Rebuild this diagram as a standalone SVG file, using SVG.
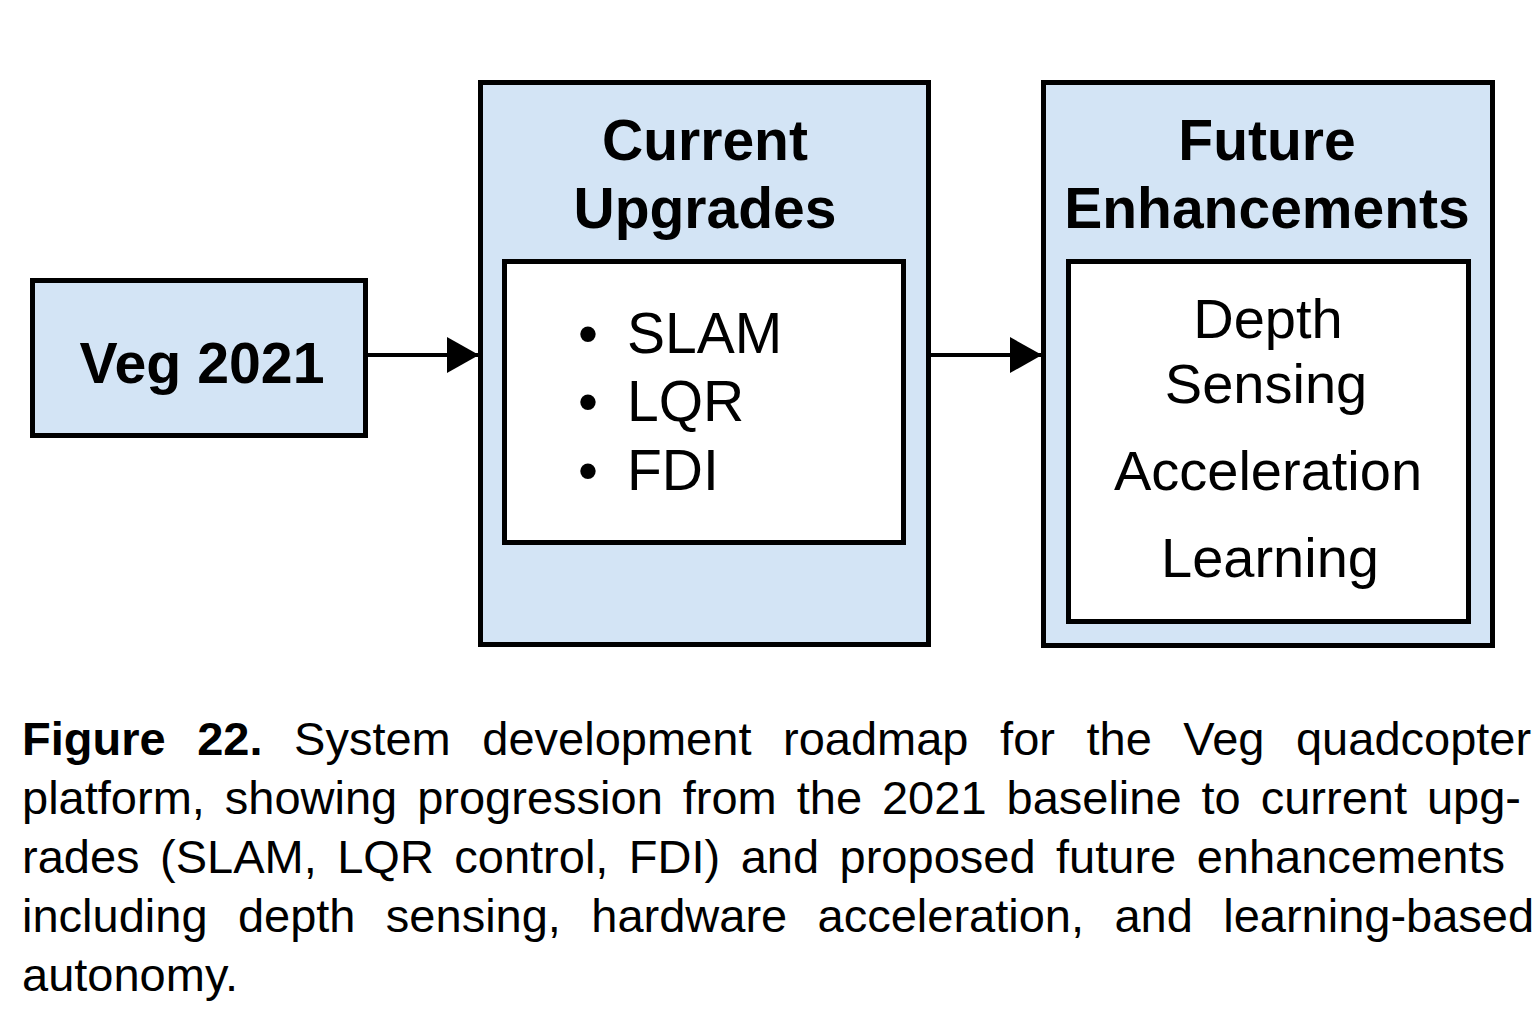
<svg xmlns="http://www.w3.org/2000/svg" width="1536" height="1024" viewBox="0 0 1536 1024">
<style>
.box{fill:#d3e4f5;stroke:#000;stroke-width:5}
.inner{fill:#fff;stroke:#000;stroke-width:5}
.title{font-family:"Liberation Sans",Arial,sans-serif;font-weight:bold;font-size:57px;fill:#000;text-anchor:middle}
.item{font-family:"Liberation Sans",Arial,sans-serif;font-size:57px;fill:#000}
.itemc{font-family:"Liberation Sans",Arial,sans-serif;font-size:56px;fill:#000;text-anchor:middle}
.cap{font-family:"Liberation Sans",Arial,sans-serif;font-size:47px;fill:#000}
.conn{stroke:#000;stroke-width:4;fill:none}
</style>
<defs>
<marker id="arr" markerUnits="userSpaceOnUse" markerWidth="32" markerHeight="36" refX="32" refY="18" orient="auto">
<path d="M0,0 L32,18 L0,36 Z" fill="#000"/>
</marker>
</defs>
<rect width="1536" height="1024" fill="#fff"/>
<g id="connectors">
<line class="conn" x1="368" y1="355" x2="479" y2="355" marker-end="url(#arr)"/>
<line class="conn" x1="930" y1="355" x2="1042" y2="355" marker-end="url(#arr)"/>
</g>
<g id="node-veg2021">
<rect class="box" x="32.5" y="280.5" width="333" height="155"/>
<text class="title" x="202" y="383" font-size="60" textLength="245" lengthAdjust="spacingAndGlyphs">Veg 2021</text>
</g>
<g id="node-current">
<rect class="box" x="480.5" y="82.5" width="448" height="562"/>
<text class="title" x="705" y="160">Current</text>
<text class="title" x="705" y="228">Upgrades</text>
<rect class="inner" x="504.5" y="261.5" width="399" height="281"/>
<text class="item" x="578" y="353">•</text>
<text class="item" x="627" y="353">SLAM</text>
<text class="item" x="578" y="421">•</text>
<text class="item" x="627" y="421">LQR</text>
<text class="item" x="578" y="490">•</text>
<text class="item" x="627" y="490">FDI</text>
</g>
<g id="node-future">
<rect class="box" x="1043.5" y="82.5" width="449" height="563"/>
<text class="title" x="1267" y="160">Future</text>
<text class="title" x="1267" y="228">Enhancements</text>
<rect class="inner" x="1068.5" y="261.5" width="400" height="360"/>
<text class="itemc" x="1268" y="338">Depth</text>
<text class="itemc" x="1266" y="403">Sensing</text>
<text class="itemc" x="1268" y="490">Acceleration</text>
<text class="itemc" x="1270" y="577">Learning</text>
</g>
<g id="caption">
<text class="cap" x="22" y="755" word-spacing="18.5"><tspan font-weight="bold">Figure 22.</tspan> System development roadmap for the Veg quadcopter</text>
<text class="cap" x="22" y="814" word-spacing="6.9">platform, showing progression from the 2021 baseline to current upg-</text>
<text class="cap" x="22" y="873" word-spacing="7.4">rades (SLAM, LQR control, FDI) and proposed future enhancements</text>
<text class="cap" x="22" y="932" word-spacing="17.3">including depth sensing, hardware acceleration, and learning-based</text>
<text class="cap" x="22" y="991">autonomy.</text>
</g>
</svg>
